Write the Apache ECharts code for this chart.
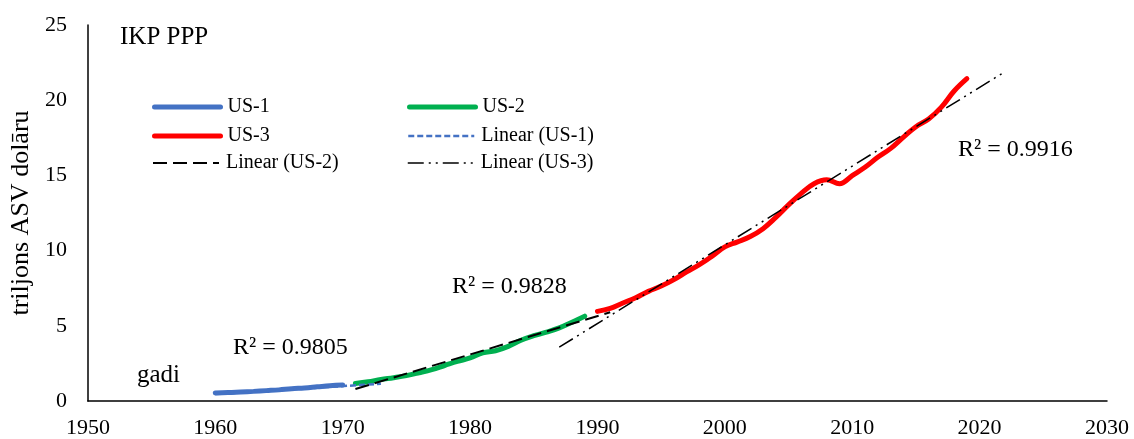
<!DOCTYPE html>
<html>
<head>
<meta charset="utf-8">
<script src="https://cdn.jsdelivr.net/npm/echarts@6/dist/echarts.min.js"></script>
<style>
  html, body { margin: 0; padding: 0; background: #fff; }
  #chart { width: 1134px; height: 439px; }
</style>
</head>
<body>
<div id="chart"></div>
<script>
// gadi un IKP PPP (triljoni ASV dolāru), nolasīts no attēla
var years1 = [1960, 1961, 1962, 1963, 1964, 1965, 1966, 1967, 1968, 1969, 1970];
var us1 = [0.54, 0.56, 0.60, 0.64, 0.69, 0.74, 0.82, 0.86, 0.94, 1.02, 1.07];

var years2 = [1971, 1972, 1973, 1974, 1975, 1976, 1977, 1978, 1979, 1980,
              1981, 1982, 1983, 1984, 1985, 1986, 1987, 1988, 1989];
var us2 = [1.16, 1.28, 1.43, 1.55, 1.69, 1.88, 2.09, 2.36, 2.63, 2.86,
           3.21, 3.34, 3.63, 4.04, 4.34, 4.58, 4.86, 5.24, 5.64];

var years3 = [1990, 1991, 1992, 1993, 1994, 1995, 1996, 1997, 1998, 1999,
              2000, 2001, 2002, 2003, 2004, 2005, 2006, 2007, 2008, 2009,
              2010, 2011, 2012, 2013, 2014, 2015, 2016, 2017, 2018, 2019];
var us3 = [5.96, 6.16, 6.52, 6.86, 7.29, 7.64, 8.07, 8.58, 9.06, 9.63,
           10.25, 10.58, 10.94, 11.46, 12.21, 13.04, 13.81, 14.45, 14.71, 14.45,
           14.99, 15.54, 16.20, 16.78, 17.53, 18.24, 18.75, 19.54, 20.61, 21.43];

// trend line end points
var trendYears1 = [1960, 1973];
var trend1 = [0.46, 1.15];
var trendYears2 = [1971, 1991];
var trend2 = [0.80, 5.90];
var trendYears3 = [1987, 2022];
var trend3 = [3.58, 21.90];

var seriesNames = ['US-1', 'US-2', 'US-3', 'Linear (US-1)', 'Linear (US-2)', 'Linear (US-3)'];
var r2Labels = ['R² = 0.9805', 'R² = 0.9828', 'R² = 0.9916'];
var xTicks = { min: 1950, max: 2030, step: 10 };
var yTicks = { min: 0, max: 25, step: 5 };

function pairs(xs, ys) {
    var out = [];
    for (var i = 0; i < xs.length; i++) out.push([xs[i], ys[i]]);
    return out;
}

var FONT = 'Liberation Serif';
var myChart = echarts.init(document.getElementById('chart'));

function legendAt(name, left, top) {
    return {
        data: [name],
        left: left,
        top: top,
        itemWidth: 66,
        itemHeight: 14,
        itemGap: 0,
        padding: 0,
        selectedMode: false,
        itemStyle: { opacity: 0 },
        lineStyle: { width: 'inherit' },
        textStyle: { fontFamily: FONT, fontSize: 20, color: '#000', padding: [0, 0, 0, 2] }
    };
}

function solidLine(name, data, color) {
    return {
        name: name, type: 'line', data: data, smooth: 0.4,
        symbol: 'none', showSymbol: false,
        lineStyle: { color: color, width: 5, cap: 'round' },
        itemStyle: { color: color },
        z: 2
    };
}

function trendLine(name, data, color, dash, width) {
    return {
        name: name, type: 'line', data: data,
        symbol: 'none', showSymbol: false,
        lineStyle: { color: color, width: width, type: dash },
        itemStyle: { color: color },
        z: 3
    };
}

function label(text, left, top, size) {
    return {
        type: 'text', left: left, top: top,
        style: { text: text, font: size + 'px "Liberation Serif"', fill: '#000' }
    };
}

var option = {
    animation: false,
    backgroundColor: '#fff',
    grid: { left: 85, right: 27, top: 25, bottom: 37, containLabel: false },
    legend: [
        legendAt(seriesNames[0], 152, 97),
        legendAt(seriesNames[1], 407, 97),
        legendAt(seriesNames[2], 152, 126),
        legendAt(seriesNames[3], 407, 126),
        legendAt(seriesNames[4], 152, 153),
        legendAt(seriesNames[5], 407, 153)
    ],
    xAxis: {
        type: 'value',
        min: xTicks.min, max: xTicks.max, interval: xTicks.step,
        splitLine: { show: false },
        axisTick: { show: false },
        axisLine: { show: true, onZero: false, lineStyle: { color: '#000', width: 1.5 } },
        axisLabel: {
            fontFamily: FONT, fontSize: 22, color: '#000', margin: 16,
            formatter: function (v) { return String(v); }
        }
    },
    yAxis: {
        type: 'value',
        min: yTicks.min, max: yTicks.max, interval: yTicks.step,
        name: 'triljons ASV dolāru',
        nameLocation: 'middle',
        nameRotate: 90,
        nameGap: 52,
        nameTextStyle: { fontFamily: FONT, fontSize: 26, color: '#000' },
        splitLine: { show: false },
        axisTick: { show: false },
        axisLine: { show: true, lineStyle: { color: '#000', width: 1.5 } },
        axisLabel: { fontFamily: FONT, fontSize: 22, color: '#000', margin: 21 }
    },
    graphic: [
        label('IKP PPP', 120, 25, 25),
        label('gadi', 137, 363, 25),
        label(r2Labels[0], 233, 336, 24),
        label(r2Labels[1], 452, 275, 24),
        label(r2Labels[2], 958, 138, 24)
    ],
    series: [
        solidLine(seriesNames[0], pairs(years1, us1), '#4472C4'),
        solidLine(seriesNames[1], pairs(years2, us2), '#00B050'),
        solidLine(seriesNames[2], pairs(years3, us3), '#FF0000'),
        trendLine(seriesNames[3], pairs(trendYears1, trend1), '#4472C4', [6, 3], 2.5),
        trendLine(seriesNames[4], pairs(trendYears2, trend2), '#000', [14, 6], 2),
        trendLine(seriesNames[5], pairs(trendYears3, trend3), '#000', [16, 5, 2, 5, 2, 5], 1.5)
    ]
};

myChart.setOption(option);
</script>
</body>
</html>
